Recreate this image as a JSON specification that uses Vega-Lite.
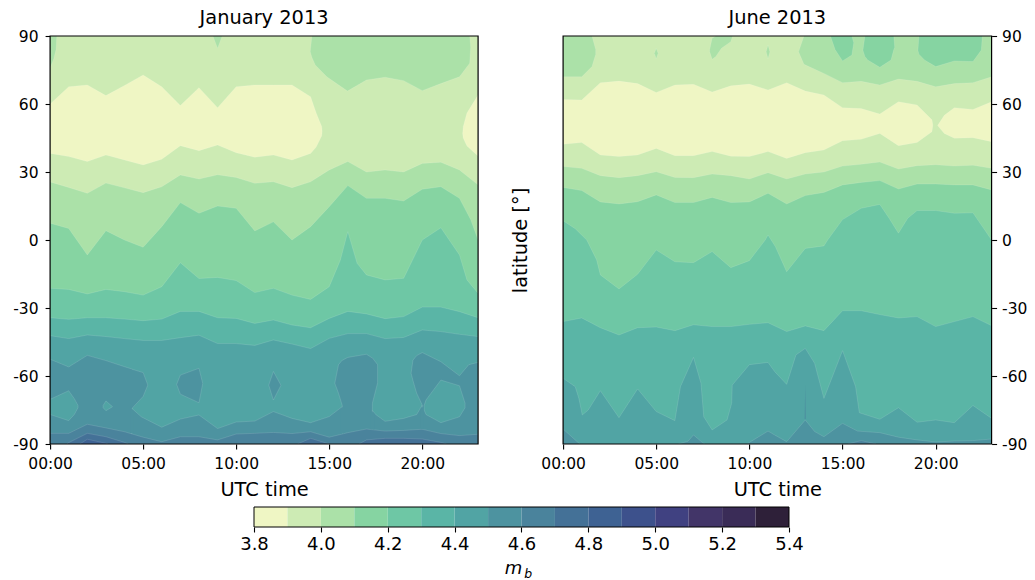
{
"$schema":"https://vega.github.io/schema/vega-lite/v6.json",
"background":"white",
"padding":{"left":12,"top":7,"right":8,"bottom":4},
"spacing":7,
"center":true,
"config":{"font":"DejaVu Sans","view":{"stroke":null},"title":{"font":"DejaVu Sans","fontWeight":"normal","color":"black","fontSize":19.4,"offset":1},
"axis":{"grid":false,"domain":false,"labelFlush":false,"labelOverlap":false,"tickColor":"black","tickWidth":1.1,"tickSize":5,"labelColor":"black","titleColor":"black","labelFont":"DejaVu Sans","titleFont":"DejaVu Sans","labelFontSize":15.5,"titleFontSize":19.4,"titleFontWeight":"normal","labelPadding":3}},
"datasets":{
"jan":[
{"id":"a0","band":"3.9","h":0,"top":90,"low":-90},{"id":"a0","band":"3.9","h":23,"top":90,"low":-90},
{"id":"a1","band":"4.0","h":0,"top":90,"low":76},{"id":"a1","band":"4.0","h":0.2,"top":90,"low":80},{"id":"a1","band":"4.0","h":0.32,"top":90,"low":84},{"id":"a1","band":"4.0","h":0.36,"top":90,"low":90},
{"id":"a2","band":"4.0","h":8.75,"top":90,"low":90},{"id":"a2","band":"4.0","h":9,"top":90,"low":84.6},{"id":"a2","band":"4.0","h":9.25,"top":90,"low":90},
{"id":"a3","band":"4.0","h":13.98,"top":83,"low":83},{"id":"a3","band":"4.0","h":14.07,"top":90,"low":80.5},{"id":"a3","band":"4.0","h":14.25,"top":90,"low":77.2},{"id":"a3","band":"4.0","h":14.87,"top":90,"low":72},{"id":"a3","band":"4.0","h":15.98,"top":90,"low":65.7},{"id":"a3","band":"4.0","h":17,"top":90,"low":70.6},{"id":"a3","band":"4.0","h":18,"top":90,"low":71.8},{"id":"a3","band":"4.0","h":19,"top":90,"low":70.3},{"id":"a3","band":"4.0","h":20,"top":90,"low":65.9},{"id":"a3","band":"4.0","h":21,"top":90,"low":69},{"id":"a3","band":"4.0","h":22,"top":90,"low":72},{"id":"a3","band":"4.0","h":22.55,"top":90,"low":78},{"id":"a3","band":"4.0","h":22.6,"top":85,"low":85},
{"id":"a4","band":"3.8","h":0,"top":60,"low":38.2},{"id":"a4","band":"3.8","h":1,"top":67.6,"low":36.8},{"id":"a4","band":"3.8","h":2,"top":68.4,"low":34.6},{"id":"a4","band":"3.8","h":3,"top":63.7,"low":37.5},{"id":"a4","band":"3.8","h":4,"top":68.2,"low":35.3},{"id":"a4","band":"3.8","h":5,"top":72.8,"low":33.1},{"id":"a4","band":"3.8","h":6,"top":67.6,"low":35.6},{"id":"a4","band":"3.8","h":7,"top":59.3,"low":41.6},{"id":"a4","band":"3.8","h":8,"top":67.2,"low":39.4},{"id":"a4","band":"3.8","h":9,"top":58.4,"low":41.9},{"id":"a4","band":"3.8","h":10,"top":67.6,"low":38.5},{"id":"a4","band":"3.8","h":11,"top":68.4,"low":36.5},{"id":"a4","band":"3.8","h":12,"top":68.4,"low":37.5},{"id":"a4","band":"3.8","h":13,"top":68.4,"low":35.3},{"id":"a4","band":"3.8","h":14,"top":63.2,"low":38.2},{"id":"a4","band":"3.8","h":14.3,"top":56,"low":41},{"id":"a4","band":"3.8","h":14.6,"top":50,"low":46},{"id":"a4","band":"3.8","h":14.62,"top":48,"low":48},
{"id":"a5","band":"3.8","h":22.17,"top":47,"low":47},{"id":"a5","band":"3.8","h":22.2,"top":50,"low":45},{"id":"a5","band":"3.8","h":22.4,"top":56,"low":41.5},{"id":"a5","band":"3.8","h":23,"top":64,"low":37},
{"id":"b1","band":"4.0","h":0,"top":25.6,"low":-90},{"id":"b1","band":"4.0","h":1,"top":23.2,"low":-90},{"id":"b1","band":"4.0","h":2,"top":20.6,"low":-90},{"id":"b1","band":"4.0","h":3,"top":25.1,"low":-90},{"id":"b1","band":"4.0","h":4,"top":23,"low":-90},{"id":"b1","band":"4.0","h":5,"top":20.9,"low":-90},{"id":"b1","band":"4.0","h":6,"top":23.5,"low":-90},{"id":"b1","band":"4.0","h":7,"top":28.7,"low":-90},{"id":"b1","band":"4.0","h":8,"top":26.9,"low":-90},{"id":"b1","band":"4.0","h":9,"top":28.8,"low":-90},{"id":"b1","band":"4.0","h":10,"top":27.6,"low":-90},{"id":"b1","band":"4.0","h":11,"top":25,"low":-90},{"id":"b1","band":"4.0","h":12,"top":25.7,"low":-90},{"id":"b1","band":"4.0","h":13,"top":23.1,"low":-90},{"id":"b1","band":"4.0","h":14,"top":25.7,"low":-90},{"id":"b1","band":"4.0","h":15,"top":30.9,"low":-90},{"id":"b1","band":"4.0","h":16,"top":34.6,"low":-90},{"id":"b1","band":"4.0","h":17,"top":30,"low":-90},{"id":"b1","band":"4.0","h":18,"top":30.9,"low":-90},{"id":"b1","band":"4.0","h":19,"top":30,"low":-90},{"id":"b1","band":"4.0","h":20,"top":33.8,"low":-90},{"id":"b1","band":"4.0","h":21,"top":34.3,"low":-90},{"id":"b1","band":"4.0","h":22,"top":30.9,"low":-90},{"id":"b1","band":"4.0","h":23,"top":24.3,"low":-90},
{"id":"b2","band":"4.1","h":0,"top":7.4,"low":-90},{"id":"b2","band":"4.1","h":1,"top":5.1,"low":-90},{"id":"b2","band":"4.1","h":2,"top":-6.6,"low":-90},{"id":"b2","band":"4.1","h":3,"top":4.1,"low":-90},{"id":"b2","band":"4.1","h":4,"top":0,"low":-90},{"id":"b2","band":"4.1","h":5,"top":-3.2,"low":-90},{"id":"b2","band":"4.1","h":6,"top":5.9,"low":-90},{"id":"b2","band":"4.1","h":7,"top":16.5,"low":-90},{"id":"b2","band":"4.1","h":8,"top":11.8,"low":-90},{"id":"b2","band":"4.1","h":9,"top":15,"low":-90},{"id":"b2","band":"4.1","h":10,"top":14,"low":-90},{"id":"b2","band":"4.1","h":11,"top":4,"low":-90},{"id":"b2","band":"4.1","h":12,"top":8,"low":-90},{"id":"b2","band":"4.1","h":13,"top":0,"low":-90},{"id":"b2","band":"4.1","h":14,"top":5.9,"low":-90},{"id":"b2","band":"4.1","h":15,"top":14.7,"low":-90},{"id":"b2","band":"4.1","h":16,"top":24,"low":-90},{"id":"b2","band":"4.1","h":17,"top":18.4,"low":-90},{"id":"b2","band":"4.1","h":18,"top":18.4,"low":-90},{"id":"b2","band":"4.1","h":19,"top":17.2,"low":-90},{"id":"b2","band":"4.1","h":20,"top":22.4,"low":-90},{"id":"b2","band":"4.1","h":21,"top":23.5,"low":-90},{"id":"b2","band":"4.1","h":22,"top":18.4,"low":-90},{"id":"b2","band":"4.1","h":22.6,"top":9,"low":-90},{"id":"b2","band":"4.1","h":23,"top":0,"low":-90},
{"id":"b3","band":"4.2","h":0,"top":-21.3,"low":-90},{"id":"b3","band":"4.2","h":1,"top":-21.8,"low":-90},{"id":"b3","band":"4.2","h":2,"top":-23.8,"low":-90},{"id":"b3","band":"4.2","h":3,"top":-21.8,"low":-90},{"id":"b3","band":"4.2","h":4,"top":-22.8,"low":-90},{"id":"b3","band":"4.2","h":5,"top":-24.3,"low":-90},{"id":"b3","band":"4.2","h":6,"top":-20.6,"low":-90},{"id":"b3","band":"4.2","h":7,"top":-10,"low":-90},{"id":"b3","band":"4.2","h":8,"top":-17,"low":-90},{"id":"b3","band":"4.2","h":9,"top":-16.5,"low":-90},{"id":"b3","band":"4.2","h":10,"top":-17.9,"low":-90},{"id":"b3","band":"4.2","h":11,"top":-23.2,"low":-90},{"id":"b3","band":"4.2","h":12,"top":-21.3,"low":-90},{"id":"b3","band":"4.2","h":13,"top":-24.3,"low":-90},{"id":"b3","band":"4.2","h":14,"top":-26.2,"low":-90},{"id":"b3","band":"4.2","h":15,"top":-20.6,"low":-90},{"id":"b3","band":"4.2","h":15.6,"top":-8.8,"low":-90},{"id":"b3","band":"4.2","h":16,"top":3.7,"low":-90},{"id":"b3","band":"4.2","h":16.5,"top":-10.3,"low":-90},{"id":"b3","band":"4.2","h":17,"top":-15.4,"low":-90},{"id":"b3","band":"4.2","h":18,"top":-17.6,"low":-90},{"id":"b3","band":"4.2","h":19,"top":-16.9,"low":-90},{"id":"b3","band":"4.2","h":20,"top":0,"low":-90},{"id":"b3","band":"4.2","h":21,"top":5.4,"low":-90},{"id":"b3","band":"4.2","h":22,"top":-6.6,"low":-90},{"id":"b3","band":"4.2","h":22.4,"top":-17.6,"low":-90},{"id":"b3","band":"4.2","h":23,"top":-23.5,"low":-90},
{"id":"b4","band":"4.3","h":0,"top":-34.3,"low":-90},{"id":"b4","band":"4.3","h":1,"top":-35,"low":-90},{"id":"b4","band":"4.3","h":2,"top":-34.3,"low":-90},{"id":"b4","band":"4.3","h":3,"top":-34.3,"low":-90},{"id":"b4","band":"4.3","h":4,"top":-34.9,"low":-90},{"id":"b4","band":"4.3","h":5,"top":-35.6,"low":-90},{"id":"b4","band":"4.3","h":6,"top":-34.9,"low":-90},{"id":"b4","band":"4.3","h":7,"top":-31.5,"low":-90},{"id":"b4","band":"4.3","h":8,"top":-31.5,"low":-90},{"id":"b4","band":"4.3","h":9,"top":-34.3,"low":-90},{"id":"b4","band":"4.3","h":10,"top":-34.6,"low":-90},{"id":"b4","band":"4.3","h":11,"top":-36.8,"low":-90},{"id":"b4","band":"4.3","h":12,"top":-35.3,"low":-90},{"id":"b4","band":"4.3","h":13,"top":-37.5,"low":-90},{"id":"b4","band":"4.3","h":14,"top":-38.7,"low":-90},{"id":"b4","band":"4.3","h":15,"top":-34.6,"low":-90},{"id":"b4","band":"4.3","h":16,"top":-31.5,"low":-90},{"id":"b4","band":"4.3","h":17,"top":-32.6,"low":-90},{"id":"b4","band":"4.3","h":18,"top":-34.7,"low":-90},{"id":"b4","band":"4.3","h":19,"top":-33.8,"low":-90},{"id":"b4","band":"4.3","h":20,"top":-29.6,"low":-90},{"id":"b4","band":"4.3","h":21,"top":-29.6,"low":-90},{"id":"b4","band":"4.3","h":22,"top":-31.6,"low":-90},{"id":"b4","band":"4.3","h":23,"top":-34.3,"low":-90},
{"id":"b5","band":"4.4","h":0,"top":-42.2,"low":-90},{"id":"b5","band":"4.4","h":1,"top":-43.5,"low":-90},{"id":"b5","band":"4.4","h":2,"top":-41.9,"low":-90},{"id":"b5","band":"4.4","h":3,"top":-42.6,"low":-90},{"id":"b5","band":"4.4","h":4,"top":-43.5,"low":-90},{"id":"b5","band":"4.4","h":5,"top":-44.3,"low":-90},{"id":"b5","band":"4.4","h":6,"top":-44.3,"low":-90},{"id":"b5","band":"4.4","h":7,"top":-43.1,"low":-90},{"id":"b5","band":"4.4","h":8,"top":-42,"low":-90},{"id":"b5","band":"4.4","h":9,"top":-45.7,"low":-90},{"id":"b5","band":"4.4","h":10,"top":-45.7,"low":-90},{"id":"b5","band":"4.4","h":11,"top":-46.5,"low":-90},{"id":"b5","band":"4.4","h":12,"top":-44.1,"low":-90},{"id":"b5","band":"4.4","h":13,"top":-45.9,"low":-90},{"id":"b5","band":"4.4","h":14,"top":-47.9,"low":-90},{"id":"b5","band":"4.4","h":15,"top":-43.4,"low":-90},{"id":"b5","band":"4.4","h":16,"top":-41.3,"low":-90},{"id":"b5","band":"4.4","h":17,"top":-41.3,"low":-90},{"id":"b5","band":"4.4","h":18,"top":-43.5,"low":-90},{"id":"b5","band":"4.4","h":19,"top":-43,"low":-90},{"id":"b5","band":"4.4","h":20,"top":-39.7,"low":-90},{"id":"b5","band":"4.4","h":21,"top":-40.4,"low":-90},{"id":"b5","band":"4.4","h":22,"top":-41.6,"low":-90},{"id":"b5","band":"4.4","h":23,"top":-42.6,"low":-90},
{"id":"c1","band":"4.5","h":0,"top":-52.6,"low":-90},{"id":"c1","band":"4.5","h":1,"top":-56,"low":-90},{"id":"c1","band":"4.5","h":2,"top":-50.9,"low":-90},{"id":"c1","band":"4.5","h":3,"top":-53.2,"low":-90},{"id":"c1","band":"4.5","h":4,"top":-55.9,"low":-90},{"id":"c1","band":"4.5","h":4.39,"top":-56.9,"low":-90},{"id":"c1","band":"4.5","h":4.4,"top":-57,"low":-74.3},{"id":"c1","band":"4.5","h":5,"top":-58.5,"low":-69},{"id":"c1","band":"4.5","h":5.25,"top":-64,"low":-64},
{"id":"c2","band":"4.5","h":4.4,"top":-74.3,"low":-90},{"id":"c2","band":"4.5","h":4.9,"top":-78,"low":-90},{"id":"c2","band":"4.5","h":6,"top":-82.6,"low":-90},{"id":"c2","band":"4.5","h":7,"top":-79,"low":-90},{"id":"c2","band":"4.5","h":8,"top":-77.2,"low":-90},{"id":"c2","band":"4.5","h":9,"top":-83.2,"low":-90},{"id":"c2","band":"4.5","h":10,"top":-80.3,"low":-90},{"id":"c2","band":"4.5","h":11,"top":-79.9,"low":-90},{"id":"c2","band":"4.5","h":12,"top":-75.7,"low":-90},{"id":"c2","band":"4.5","h":13,"top":-78.7,"low":-90},{"id":"c2","band":"4.5","h":14,"top":-80.6,"low":-90},{"id":"c2","band":"4.5","h":15,"top":-77.9,"low":-90},{"id":"c2","band":"4.5","h":15.7,"top":-73.5,"low":-90},{"id":"c2","band":"4.5","h":17.3,"top":-75,"low":-90},{"id":"c2","band":"4.5","h":17.5,"top":-77,"low":-90},{"id":"c2","band":"4.5","h":18,"top":-80,"low":-90},{"id":"c2","band":"4.5","h":19,"top":-78.7,"low":-90},{"id":"c2","band":"4.5","h":19.7,"top":-77,"low":-90},{"id":"c2","band":"4.5","h":20,"top":-72.8,"low":-90},
{"id":"c3","band":"4.5","h":15.3,"top":-63.2,"low":-63.2},{"id":"c3","band":"4.5","h":15.5,"top":-55,"low":-67.6},{"id":"c3","band":"4.5","h":15.7,"top":-53,"low":-73},{"id":"c3","band":"4.5","h":15.72,"top":-53,"low":-90},{"id":"c3","band":"4.5","h":16,"top":-51.8,"low":-90},{"id":"c3","band":"4.5","h":17,"top":-50.4,"low":-90},{"id":"c3","band":"4.5","h":17.3,"top":-52,"low":-90},{"id":"c3","band":"4.5","h":17.32,"top":-52,"low":-72},{"id":"c3","band":"4.5","h":17.6,"top":-55,"low":-63},
{"id":"c4","band":"4.5","h":19.4,"top":-58.8,"low":-58.8},{"id":"c4","band":"4.5","h":19.5,"top":-53,"low":-62},{"id":"c4","band":"4.5","h":19.7,"top":-51,"low":-67.6},{"id":"c4","band":"4.5","h":20,"top":-49.7,"low":-72.8},{"id":"c4","band":"4.5","h":20.01,"top":-49.7,"low":-90},{"id":"c4","band":"4.5","h":21,"top":-53.7,"low":-90},{"id":"c4","band":"4.5","h":22,"top":-59.9,"low":-90},{"id":"c4","band":"4.5","h":22.5,"top":-55,"low":-90},{"id":"c4","band":"4.5","h":23,"top":-54,"low":-90},
{"id":"d1","band":"4.4","h":0,"top":-70.3,"low":-77},{"id":"d1","band":"4.4","h":1,"top":-66.5,"low":-79.7},{"id":"d1","band":"4.4","h":1.3,"top":-70,"low":-77},{"id":"d1","band":"4.4","h":1.5,"top":-73,"low":-74},
{"id":"d2","band":"4.4","h":2.85,"top":-73,"low":-74},{"id":"d2","band":"4.4","h":3,"top":-71,"low":-75.3},{"id":"d2","band":"4.4","h":3.35,"top":-73.5,"low":-73.6},
{"id":"d3","band":"4.4","h":20.1,"top":-73,"low":-75},{"id":"d3","band":"4.4","h":20.2,"top":-70.6,"low":-77},{"id":"d3","band":"4.4","h":21,"top":-61.8,"low":-80.6},{"id":"d3","band":"4.4","h":22,"top":-64.3,"low":-78},{"id":"d3","band":"4.4","h":22.3,"top":-72,"low":-74},
{"id":"d4","band":"4.5","h":6.8,"top":-63.7,"low":-63.7},{"id":"d4","band":"4.5","h":7,"top":-59.6,"low":-68},{"id":"d4","band":"4.5","h":8,"top":-56.6,"low":-71.8},{"id":"d4","band":"4.5","h":8.2,"top":-63.2,"low":-63.4},
{"id":"d5","band":"4.5","h":11.75,"top":-64,"low":-64},{"id":"d5","band":"4.5","h":12,"top":-58,"low":-70.6},{"id":"d5","band":"4.5","h":12.4,"top":-64,"low":-64.2},
{"id":"f1","band":"4.5","h":4.33,"top":-73.5,"low":-85},{"id":"f1","band":"4.5","h":4.4,"top":-74.6,"low":-85.3},{"id":"f1","band":"4.5","h":4.47,"top":-75.2,"low":-85.3},
{"id":"f2","band":"4.5","h":15.62,"top":-74.6,"low":-85.4},{"id":"f2","band":"4.5","h":15.72,"top":-73.8,"low":-85.4},{"id":"f2","band":"4.5","h":15.82,"top":-73.8,"low":-85.2},
{"id":"f3","band":"4.5","h":17.22,"top":-75.2,"low":-83.6},{"id":"f3","band":"4.5","h":17.42,"top":-76.5,"low":-83.6},
{"id":"f4","band":"4.5","h":19.92,"top":-74.3,"low":-83.5},{"id":"f4","band":"4.5","h":20.07,"top":-73.5,"low":-83.5},
{"id":"e1","band":"4.6","h":0,"top":-85.3,"low":-90},{"id":"e1","band":"4.6","h":1,"top":-85.3,"low":-90},{"id":"e1","band":"4.6","h":2,"top":-81.3,"low":-90},{"id":"e1","band":"4.6","h":3,"top":-82.9,"low":-90},{"id":"e1","band":"4.6","h":4,"top":-84.6,"low":-90},{"id":"e1","band":"4.6","h":5,"top":-87,"low":-90},{"id":"e1","band":"4.6","h":6,"top":-89,"low":-90},{"id":"e1","band":"4.6","h":7,"top":-86.8,"low":-90},{"id":"e1","band":"4.6","h":8,"top":-86.8,"low":-90},{"id":"e1","band":"4.6","h":9,"top":-88.2,"low":-90},{"id":"e1","band":"4.6","h":10,"top":-85.6,"low":-90},{"id":"e1","band":"4.6","h":11,"top":-85.3,"low":-90},{"id":"e1","band":"4.6","h":12,"top":-84.9,"low":-90},{"id":"e1","band":"4.6","h":13,"top":-85.4,"low":-90},{"id":"e1","band":"4.6","h":14,"top":-84.6,"low":-90},{"id":"e1","band":"4.6","h":15,"top":-87,"low":-90},{"id":"e1","band":"4.6","h":16,"top":-85,"low":-90},{"id":"e1","band":"4.6","h":17,"top":-83.4,"low":-90},{"id":"e1","band":"4.6","h":18,"top":-84.3,"low":-90},{"id":"e1","band":"4.6","h":19,"top":-84,"low":-90},{"id":"e1","band":"4.6","h":20,"top":-83.5,"low":-90},{"id":"e1","band":"4.6","h":21,"top":-85.4,"low":-90},{"id":"e1","band":"4.6","h":22,"top":-86.3,"low":-90},{"id":"e1","band":"4.6","h":23,"top":-85.7,"low":-90},
{"id":"e2","band":"4.7","h":0.9,"top":-90,"low":-90},{"id":"e2","band":"4.7","h":1,"top":-89.4,"low":-90},{"id":"e2","band":"4.7","h":2,"top":-85.3,"low":-90},{"id":"e2","band":"4.7","h":3,"top":-86.8,"low":-90},{"id":"e2","band":"4.7","h":4,"top":-89.3,"low":-90},{"id":"e2","band":"4.7","h":4.2,"top":-90,"low":-90},
{"id":"e3","band":"4.7","h":13.3,"top":-90,"low":-90},{"id":"e3","band":"4.7","h":14,"top":-87.5,"low":-90},{"id":"e3","band":"4.7","h":15,"top":-90,"low":-90},
{"id":"e4","band":"4.7","h":16.6,"top":-90,"low":-90},{"id":"e4","band":"4.7","h":17,"top":-88.2,"low":-90},{"id":"e4","band":"4.7","h":18,"top":-87.5,"low":-90},{"id":"e4","band":"4.7","h":19,"top":-87.5,"low":-90},{"id":"e4","band":"4.7","h":20,"top":-87.8,"low":-90},{"id":"e4","band":"4.7","h":21,"top":-89.3,"low":-90},{"id":"e4","band":"4.7","h":21.3,"top":-90,"low":-90},
{"id":"e5","band":"4.8","h":1.6,"top":-90,"low":-90},{"id":"e5","band":"4.8","h":2,"top":-87.9,"low":-90},{"id":"e5","band":"4.8","h":3,"top":-89.7,"low":-90},{"id":"e5","band":"4.8","h":3.1,"top":-90,"low":-90}
],
"jun":[
{"id":"a0","band":"3.9","h":0,"top":90,"low":-90},{"id":"a0","band":"3.9","h":23,"top":90,"low":-90},
{"id":"a1","band":"4.0","h":0,"top":90,"low":72},{"id":"a1","band":"4.0","h":1,"top":90,"low":72},{"id":"a1","band":"4.0","h":1.55,"top":90,"low":76.5},{"id":"a1","band":"4.0","h":1.75,"top":84,"low":82},
{"id":"a2","band":"4.0","h":4.9,"top":82.4,"low":82.4},{"id":"a2","band":"4.0","h":5,"top":84.5,"low":80},{"id":"a2","band":"4.0","h":5.1,"top":82.4,"low":82.4},
{"id":"a3","band":"4.0","h":7.87,"top":84,"low":83},{"id":"a3","band":"4.0","h":8,"top":89,"low":79.7},{"id":"a3","band":"4.0","h":8.2,"top":90,"low":81},{"id":"a3","band":"4.0","h":8.5,"top":90,"low":84.6},{"id":"a3","band":"4.0","h":9,"top":90,"low":87.5},{"id":"a3","band":"4.0","h":9.1,"top":90,"low":90},
{"id":"a4","band":"4.0","h":10.9,"top":83,"low":83},{"id":"a4","band":"4.0","h":11,"top":86,"low":80},{"id":"a4","band":"4.0","h":11.1,"top":83,"low":83},
{"id":"a5","band":"4.0","h":12.64,"top":83,"low":83},{"id":"a5","band":"4.0","h":12.93,"top":90,"low":77.5},{"id":"a5","band":"4.0","h":14,"top":90,"low":73.5},{"id":"a5","band":"4.0","h":15,"top":90,"low":69.4},{"id":"a5","band":"4.0","h":16,"top":90,"low":70},{"id":"a5","band":"4.0","h":17,"top":90,"low":68.4},{"id":"a5","band":"4.0","h":18,"top":90,"low":71},{"id":"a5","band":"4.0","h":19,"top":90,"low":70},{"id":"a5","band":"4.0","h":20,"top":90,"low":67.6},{"id":"a5","band":"4.0","h":21,"top":90,"low":69},{"id":"a5","band":"4.0","h":22,"top":90,"low":69.4},{"id":"a5","band":"4.0","h":23,"top":90,"low":72},
{"id":"a6","band":"4.1","h":14.35,"top":90,"low":90},{"id":"a6","band":"4.1","h":14.6,"top":90,"low":84},{"id":"a6","band":"4.1","h":15,"top":90,"low":79},{"id":"a6","band":"4.1","h":15.5,"top":90,"low":81.6},{"id":"a6","band":"4.1","h":15.6,"top":87,"low":87},
{"id":"a7","band":"4.1","h":16.1,"top":84,"low":83.5},{"id":"a7","band":"4.1","h":16.2,"top":90,"low":81},{"id":"a7","band":"4.1","h":16.35,"top":90,"low":79.4},{"id":"a7","band":"4.1","h":17,"top":90,"low":76.2},{"id":"a7","band":"4.1","h":17.6,"top":90,"low":79.4},{"id":"a7","band":"4.1","h":17.75,"top":90,"low":84},{"id":"a7","band":"4.1","h":17.8,"top":85,"low":85},
{"id":"a8","band":"4.1","h":19.05,"top":84,"low":83.5},{"id":"a8","band":"4.1","h":19.1,"top":90,"low":82},{"id":"a8","band":"4.1","h":19.4,"top":90,"low":79.4},{"id":"a8","band":"4.1","h":20,"top":90,"low":76.5},{"id":"a8","band":"4.1","h":21,"top":90,"low":79},{"id":"a8","band":"4.1","h":22,"top":90,"low":78.7},{"id":"a8","band":"4.1","h":22.45,"top":90,"low":83.8},{"id":"a8","band":"4.1","h":22.5,"top":90,"low":90},
{"id":"a9","band":"3.8","h":0,"top":62,"low":42.2},{"id":"a9","band":"3.8","h":1,"top":61.8,"low":43},{"id":"a9","band":"3.8","h":2,"top":69.4,"low":37.5},{"id":"a9","band":"3.8","h":3,"top":70.1,"low":36.8},{"id":"a9","band":"3.8","h":4,"top":69,"low":37.5},{"id":"a9","band":"3.8","h":5,"top":65.1,"low":40.4},{"id":"a9","band":"3.8","h":6,"top":68.4,"low":37.2},{"id":"a9","band":"3.8","h":7,"top":68.7,"low":37.2},{"id":"a9","band":"3.8","h":8,"top":65.3,"low":39},{"id":"a9","band":"3.8","h":9,"top":68,"low":37},{"id":"a9","band":"3.8","h":10,"top":68.8,"low":36.8},{"id":"a9","band":"3.8","h":11,"top":66.2,"low":39},{"id":"a9","band":"3.8","h":12,"top":69.4,"low":36},{"id":"a9","band":"3.8","h":13,"top":65.7,"low":38.5},{"id":"a9","band":"3.8","h":14,"top":64,"low":39.7},{"id":"a9","band":"3.8","h":15,"top":58.4,"low":43.8},{"id":"a9","band":"3.8","h":16,"top":58,"low":44.4},{"id":"a9","band":"3.8","h":17,"top":55.6,"low":47},{"id":"a9","band":"3.8","h":18,"top":61,"low":41.6},{"id":"a9","band":"3.8","h":19,"top":59.6,"low":43},{"id":"a9","band":"3.8","h":19.8,"top":53,"low":47.8},{"id":"a9","band":"3.8","h":19.85,"top":50.7,"low":50.7},
{"id":"a10","band":"3.8","h":20.1,"top":50.5,"low":50.5},{"id":"a10","band":"3.8","h":20.46,"top":55,"low":47},{"id":"a10","band":"3.8","h":21,"top":58.4,"low":44.9},{"id":"a10","band":"3.8","h":22,"top":57.6,"low":45.1},{"id":"a10","band":"3.8","h":23,"top":61,"low":43.4},
{"id":"b1","band":"4.0","h":0,"top":32.4,"low":-90},{"id":"b1","band":"4.0","h":1,"top":31.6,"low":-90},{"id":"b1","band":"4.0","h":2,"top":28.4,"low":-90},{"id":"b1","band":"4.0","h":3,"top":27.5,"low":-90},{"id":"b1","band":"4.0","h":4,"top":28.4,"low":-90},{"id":"b1","band":"4.0","h":5,"top":30.1,"low":-90},{"id":"b1","band":"4.0","h":6,"top":27.6,"low":-90},{"id":"b1","band":"4.0","h":7,"top":27.5,"low":-90},{"id":"b1","band":"4.0","h":8,"top":29.1,"low":-90},{"id":"b1","band":"4.0","h":9,"top":28.4,"low":-90},{"id":"b1","band":"4.0","h":10,"top":26.9,"low":-90},{"id":"b1","band":"4.0","h":11,"top":29.7,"low":-90},{"id":"b1","band":"4.0","h":12,"top":26.9,"low":-90},{"id":"b1","band":"4.0","h":13,"top":29.1,"low":-90},{"id":"b1","band":"4.0","h":14,"top":30,"low":-90},{"id":"b1","band":"4.0","h":15,"top":32.6,"low":-90},{"id":"b1","band":"4.0","h":16,"top":33.4,"low":-90},{"id":"b1","band":"4.0","h":17,"top":34.4,"low":-90},{"id":"b1","band":"4.0","h":18,"top":31.3,"low":-90},{"id":"b1","band":"4.0","h":19,"top":32.8,"low":-90},{"id":"b1","band":"4.0","h":20,"top":33.2,"low":-90},{"id":"b1","band":"4.0","h":21,"top":32.6,"low":-90},{"id":"b1","band":"4.0","h":22,"top":33,"low":-90},{"id":"b1","band":"4.0","h":23,"top":31.6,"low":-90},
{"id":"b2","band":"4.1","h":0,"top":23.2,"low":-90},{"id":"b2","band":"4.1","h":1,"top":21.8,"low":-90},{"id":"b2","band":"4.1","h":2,"top":16.8,"low":-90},{"id":"b2","band":"4.1","h":3,"top":15.9,"low":-90},{"id":"b2","band":"4.1","h":4,"top":16.9,"low":-90},{"id":"b2","band":"4.1","h":5,"top":19.9,"low":-90},{"id":"b2","band":"4.1","h":6,"top":16.5,"low":-90},{"id":"b2","band":"4.1","h":7,"top":16.5,"low":-90},{"id":"b2","band":"4.1","h":8,"top":18.8,"low":-90},{"id":"b2","band":"4.1","h":9,"top":16.5,"low":-90},{"id":"b2","band":"4.1","h":10,"top":16.8,"low":-90},{"id":"b2","band":"4.1","h":11,"top":20.6,"low":-90},{"id":"b2","band":"4.1","h":12,"top":15.9,"low":-90},{"id":"b2","band":"4.1","h":13,"top":19.6,"low":-90},{"id":"b2","band":"4.1","h":14,"top":21,"low":-90},{"id":"b2","band":"4.1","h":15,"top":24.3,"low":-90},{"id":"b2","band":"4.1","h":16,"top":25.4,"low":-90},{"id":"b2","band":"4.1","h":17,"top":26.2,"low":-90},{"id":"b2","band":"4.1","h":18,"top":22.5,"low":-90},{"id":"b2","band":"4.1","h":19,"top":24.7,"low":-90},{"id":"b2","band":"4.1","h":20,"top":24.7,"low":-90},{"id":"b2","band":"4.1","h":21,"top":24.3,"low":-90},{"id":"b2","band":"4.1","h":22,"top":24.3,"low":-90},{"id":"b2","band":"4.1","h":23,"top":22.1,"low":-90},
{"id":"b3","band":"4.2","h":0,"top":8.5,"low":-90},{"id":"b3","band":"4.2","h":0.65,"top":5,"low":-90},{"id":"b3","band":"4.2","h":1.27,"top":0,"low":-90},{"id":"b3","band":"4.2","h":1.8,"top":-8.8,"low":-90},{"id":"b3","band":"4.2","h":2,"top":-15.4,"low":-90},{"id":"b3","band":"4.2","h":3,"top":-21.6,"low":-90},{"id":"b3","band":"4.2","h":4,"top":-15.1,"low":-90},{"id":"b3","band":"4.2","h":5,"top":-4.4,"low":-90},{"id":"b3","band":"4.2","h":6,"top":-9.6,"low":-90},{"id":"b3","band":"4.2","h":7,"top":-10,"low":-90},{"id":"b3","band":"4.2","h":8,"top":-5.1,"low":-90},{"id":"b3","band":"4.2","h":9,"top":-12.2,"low":-90},{"id":"b3","band":"4.2","h":10,"top":-9.1,"low":-90},{"id":"b3","band":"4.2","h":10.85,"top":0,"low":-90},{"id":"b3","band":"4.2","h":11,"top":2.2,"low":-90},{"id":"b3","band":"4.2","h":11.4,"top":-3,"low":-90},{"id":"b3","band":"4.2","h":12,"top":-14,"low":-90},{"id":"b3","band":"4.2","h":13,"top":-3.7,"low":-90},{"id":"b3","band":"4.2","h":14,"top":-2.6,"low":-90},{"id":"b3","band":"4.2","h":14.2,"top":0,"low":-90},{"id":"b3","band":"4.2","h":15,"top":9,"low":-90},{"id":"b3","band":"4.2","h":16,"top":14,"low":-90},{"id":"b3","band":"4.2","h":17,"top":15.7,"low":-90},{"id":"b3","band":"4.2","h":17.5,"top":9.6,"low":-90},{"id":"b3","band":"4.2","h":18,"top":3,"low":-90},{"id":"b3","band":"4.2","h":18.5,"top":9.6,"low":-90},{"id":"b3","band":"4.2","h":19,"top":13,"low":-90},{"id":"b3","band":"4.2","h":20,"top":13,"low":-90},{"id":"b3","band":"4.2","h":21,"top":11.8,"low":-90},{"id":"b3","band":"4.2","h":22,"top":12,"low":-90},{"id":"b3","band":"4.2","h":23,"top":0,"low":-90},
{"id":"b4","band":"4.3","h":0,"top":-36,"low":-90},{"id":"b4","band":"4.3","h":1,"top":-34.4,"low":-90},{"id":"b4","band":"4.3","h":2,"top":-38.7,"low":-90},{"id":"b4","band":"4.3","h":3,"top":-41.9,"low":-90},{"id":"b4","band":"4.3","h":4,"top":-38.7,"low":-90},{"id":"b4","band":"4.3","h":5,"top":-38.4,"low":-90},{"id":"b4","band":"4.3","h":6,"top":-40,"low":-90},{"id":"b4","band":"4.3","h":7,"top":-37.4,"low":-90},{"id":"b4","band":"4.3","h":8,"top":-38.2,"low":-90},{"id":"b4","band":"4.3","h":9,"top":-38.2,"low":-90},{"id":"b4","band":"4.3","h":10,"top":-37.2,"low":-90},{"id":"b4","band":"4.3","h":11,"top":-36.5,"low":-90},{"id":"b4","band":"4.3","h":12,"top":-40.4,"low":-90},{"id":"b4","band":"4.3","h":13,"top":-37.9,"low":-90},{"id":"b4","band":"4.3","h":14,"top":-40,"low":-90},{"id":"b4","band":"4.3","h":15,"top":-31.2,"low":-90},{"id":"b4","band":"4.3","h":16,"top":-31.2,"low":-90},{"id":"b4","band":"4.3","h":17,"top":-32.9,"low":-90},{"id":"b4","band":"4.3","h":18,"top":-34.4,"low":-90},{"id":"b4","band":"4.3","h":19,"top":-33.8,"low":-90},{"id":"b4","band":"4.3","h":20,"top":-38.2,"low":-90},{"id":"b4","band":"4.3","h":21,"top":-36,"low":-90},{"id":"b4","band":"4.3","h":22,"top":-33.8,"low":-90},{"id":"b4","band":"4.3","h":23,"top":-37.8,"low":-90},
{"id":"b5","band":"4.4","h":0,"top":-61,"low":-90},{"id":"b5","band":"4.4","h":0.65,"top":-64.7,"low":-90},{"id":"b5","band":"4.4","h":0.85,"top":-70,"low":-90},{"id":"b5","band":"4.4","h":1.03,"top":-77.2,"low":-90},{"id":"b5","band":"4.4","h":1.35,"top":-75,"low":-90},{"id":"b5","band":"4.4","h":2,"top":-66.5,"low":-90},{"id":"b5","band":"4.4","h":3,"top":-78.4,"low":-90},{"id":"b5","band":"4.4","h":4,"top":-65.7,"low":-90},{"id":"b5","band":"4.4","h":5,"top":-75.7,"low":-90},{"id":"b5","band":"4.4","h":6,"top":-79.7,"low":-90},{"id":"b5","band":"4.4","h":6.3,"top":-64.7,"low":-90},{"id":"b5","band":"4.4","h":7,"top":-51.8,"low":-90},{"id":"b5","band":"4.4","h":7.4,"top":-63.2,"low":-90},{"id":"b5","band":"4.4","h":7.55,"top":-78,"low":-90},{"id":"b5","band":"4.4","h":8,"top":-83.8,"low":-90},{"id":"b5","band":"4.4","h":8.8,"top":-79.4,"low":-90},{"id":"b5","band":"4.4","h":9.05,"top":-72,"low":-90},{"id":"b5","band":"4.4","h":9.08,"top":-64,"low":-90},{"id":"b5","band":"4.4","h":10,"top":-55,"low":-90},{"id":"b5","band":"4.4","h":11,"top":-54,"low":-90},{"id":"b5","band":"4.4","h":11.35,"top":-58,"low":-90},{"id":"b5","band":"4.4","h":12,"top":-63.7,"low":-90},{"id":"b5","band":"4.4","h":12.5,"top":-50.7,"low":-90},{"id":"b5","band":"4.4","h":13,"top":-47.8,"low":-90},{"id":"b5","band":"4.4","h":13.5,"top":-54.4,"low":-90},{"id":"b5","band":"4.4","h":14,"top":-69.9,"low":-90},{"id":"b5","band":"4.4","h":15,"top":-48.8,"low":-90},{"id":"b5","band":"4.4","h":15.7,"top":-64.7,"low":-90},{"id":"b5","band":"4.4","h":15.9,"top":-76.2,"low":-90},{"id":"b5","band":"4.4","h":17,"top":-79.1,"low":-90},{"id":"b5","band":"4.4","h":18,"top":-74,"low":-90},{"id":"b5","band":"4.4","h":19,"top":-80.4,"low":-90},{"id":"b5","band":"4.4","h":20,"top":-79.4,"low":-90},{"id":"b5","band":"4.4","h":21,"top":-80.6,"low":-90},{"id":"b5","band":"4.4","h":22,"top":-73,"low":-90},{"id":"b5","band":"4.4","h":23,"top":-78.7,"low":-90},
{"id":"c2","band":"4.5","h":0,"top":-83.4,"low":-90},{"id":"c2","band":"4.5","h":0.8,"top":-89.3,"low":-90},{"id":"c2","band":"4.5","h":0.9,"top":-90,"low":-90},
{"id":"c3","band":"4.5","h":6.2,"top":-90,"low":-90},{"id":"c3","band":"4.5","h":6.7,"top":-88.8,"low":-90},{"id":"c3","band":"4.5","h":7,"top":-86,"low":-90},{"id":"c3","band":"4.5","h":7.5,"top":-89.5,"low":-90},{"id":"c3","band":"4.5","h":7.6,"top":-90,"low":-90},
{"id":"c4","band":"4.5","h":9.9,"top":-90,"low":-90},{"id":"c4","band":"4.5","h":10,"top":-89.3,"low":-90},{"id":"c4","band":"4.5","h":11,"top":-84.3,"low":-90},{"id":"c4","band":"4.5","h":11.35,"top":-86,"low":-90},{"id":"c4","band":"4.5","h":12,"top":-89,"low":-90},{"id":"c4","band":"4.5","h":13,"top":-79.4,"low":-90},{"id":"c4","band":"4.5","h":13.5,"top":-84.5,"low":-90},{"id":"c4","band":"4.5","h":14,"top":-86.8,"low":-90},{"id":"c4","band":"4.5","h":15,"top":-80.9,"low":-90},{"id":"c4","band":"4.5","h":15.8,"top":-84.3,"low":-90},{"id":"c4","band":"4.5","h":17,"top":-85,"low":-90},{"id":"c4","band":"4.5","h":18,"top":-87,"low":-90},{"id":"c4","band":"4.5","h":19,"top":-88.2,"low":-90},{"id":"c4","band":"4.5","h":20,"top":-89.1,"low":-90},{"id":"c4","band":"4.5","h":21,"top":-88.7,"low":-90},{"id":"c4","band":"4.5","h":22,"top":-88.5,"low":-90},{"id":"c4","band":"4.5","h":23,"top":-87.8,"low":-90},
{"id":"c5","band":"4.6","h":15.3,"top":-90,"low":-90},{"id":"c5","band":"4.6","h":16,"top":-88.5,"low":-90},{"id":"c5","band":"4.6","h":16.8,"top":-90,"low":-90},
{"id":"f1","band":"4.5","h":12.96,"top":-79,"low":-79},{"id":"f1","band":"4.5","h":13,"top":-64,"low":-79},{"id":"f1","band":"4.5","h":13.04,"top":-79,"low":-79}
],
"bar":[
{"band":"3.8","from":3.8,"to":3.9},{"band":"3.9","from":3.9,"to":4.0},{"band":"4.0","from":4.0,"to":4.1},{"band":"4.1","from":4.1,"to":4.2},{"band":"4.2","from":4.2,"to":4.3},{"band":"4.3","from":4.3,"to":4.4},{"band":"4.4","from":4.4,"to":4.5},{"band":"4.5","from":4.5,"to":4.6},{"band":"4.6","from":4.6,"to":4.7},{"band":"4.7","from":4.7,"to":4.8},{"band":"4.8","from":4.8,"to":4.9},{"band":"4.9","from":4.9,"to":5.0},{"band":"5.0","from":5.0,"to":5.1},{"band":"5.1","from":5.1,"to":5.2},{"band":"5.2","from":5.2,"to":5.3},{"band":"5.3","from":5.3,"to":5.4}
]
},
"vconcat":[
{"hconcat":[
{"width":428,"height":408,"title":"January 2013",
"layer":[
{"data":{"name":"jan"},"transform":[{"filter":"datum.id[0]!='f'"}],"mark":{"type":"area","clip":true,"stroke":"white","strokeOpacity":0.2,"strokeWidth":0.6},
"encoding":{
"x":{"field":"h","type":"quantitative","scale":{"domain":[0,23],"nice":false,"zero":false},"axis":{"title":"UTC time","values":[0,5,10,15,20],"labelExpr":"(datum.value<10?'0':'')+datum.value+':00'","labelPadding":7,"titlePadding":9}},
"y":{"field":"top","type":"quantitative","stack":null,"scale":{"domain":[-90,90],"nice":false,"zero":false},"axis":{"title":null,"values":[-90,-60,-30,0,30,60,90],"labelExpr":"''+datum.value","labelPadding":7}},
"y2":{"field":"low"},
"detail":{"field":"id"},
"color":{"field":"band","type":"nominal","legend":null,"scale":{"domain":["3.8","3.9","4.0","4.1","4.2","4.3","4.4","4.5","4.6","4.7","4.8","4.9","5.0","5.1","5.2","5.3"],"range":["#eff6c4","#cdebb4","#abe1a8","#86d4a2","#6ec7a5","#5ab5a6","#51a4a4","#4d93a0","#4a839c","#447197","#3e6293","#3d518c","#404181","#423568","#3a2c57","#2e2039"]}}
}},
{"data":{"name":"jan"},"transform":[{"filter":"datum.id[0]=='f'"}],"mark":{"type":"area","clip":true},
"encoding":{"x":{"field":"h","type":"quantitative"},"y":{"field":"top","type":"quantitative","stack":null},"y2":{"field":"low"},"detail":{"field":"id"},"color":{"field":"band","type":"nominal","legend":null}}},
{"data":{"values":[{"frame":1}]},"mark":{"type":"rect","fill":"transparent","stroke":"black","strokeWidth":1.2},
"encoding":{"x":{"datum":0},"x2":{"datum":23},"y":{"datum":-90},"y2":{"datum":90}}}
]},
{"width":428.5,"height":408,"title":"June 2013",
"resolve":{"axis":{"y":"independent"}},
"layer":[
{"data":{"name":"jun"},"transform":[{"filter":"datum.id[0]!='f'"}],"mark":{"type":"area","clip":true,"stroke":"white","strokeOpacity":0.2,"strokeWidth":0.6},
"encoding":{
"x":{"field":"h","type":"quantitative","scale":{"domain":[0,23],"nice":false,"zero":false},"axis":{"title":"UTC time","values":[0,5,10,15,20],"labelExpr":"(datum.value<10?'0':'')+datum.value+':00'","labelPadding":7,"titlePadding":9}},
"y":{"field":"top","type":"quantitative","stack":null,"scale":{"domain":[-90,90],"nice":false,"zero":false},"axis":{"orient":"right","title":null,"values":[-90,-60,-30,0,30,60,90],"labelExpr":"''+datum.value","labelPadding":5}},
"y2":{"field":"low"},
"detail":{"field":"id"},
"color":{"field":"band","type":"nominal","legend":null,"scale":{"domain":["3.8","3.9","4.0","4.1","4.2","4.3","4.4","4.5","4.6","4.7","4.8","4.9","5.0","5.1","5.2","5.3"],"range":["#eff6c4","#cdebb4","#abe1a8","#86d4a2","#6ec7a5","#5ab5a6","#51a4a4","#4d93a0","#4a839c","#447197","#3e6293","#3d518c","#404181","#423568","#3a2c57","#2e2039"]}}
}},
{"data":{"name":"jun"},"transform":[{"filter":"datum.id[0]=='f'"}],"mark":{"type":"area","clip":true},
"encoding":{"x":{"field":"h","type":"quantitative"},"y":{"field":"top","type":"quantitative","stack":null,"axis":null},"y2":{"field":"low"},"detail":{"field":"id"},"color":{"field":"band","type":"nominal","legend":null}}},
{"data":{"values":[{"frame":1}]},"mark":{"type":"rect","fill":"transparent","stroke":"black","strokeWidth":1.2},
"encoding":{"x":{"datum":0},"x2":{"datum":23},"y":{"datum":-90,"axis":{"orient":"left","title":"latitude [°]","labels":false,"ticks":false,"titlePadding":33}},"y2":{"datum":90}}}
]}
],"spacing":85,"bounds":"flush"},
{"width":569,"height":20,
"layer":[
{"data":{"name":"bar"},"mark":"rect",
"encoding":{
"x":{"field":"from","type":"quantitative","scale":{"domain":[3.8,5.4],"range":[0,535],"nice":false,"zero":false},"axis":{"title":"m","titleFontStyle":"italic","titleFontSize":18,"titleX":259,"titlePadding":6,"values":[3.8,4.0,4.2,4.4,4.6,4.8,5.0,5.2,5.4],"format":".1f","labelFontSize":18}},
"x2":{"field":"to"},
"color":{"field":"band","type":"nominal","legend":null,"scale":{"domain":["3.8","3.9","4.0","4.1","4.2","4.3","4.4","4.5","4.6","4.7","4.8","4.9","5.0","5.1","5.2","5.3"],"range":["#eff6c4","#cdebb4","#abe1a8","#86d4a2","#6ec7a5","#5ab5a6","#51a4a4","#4d93a0","#4a839c","#447197","#3e6293","#3d518c","#404181","#423568","#3a2c57","#2e2039"]}}
}},
{"data":{"values":[{"frame":1}]},"mark":{"type":"rect","fill":"transparent","stroke":"black","strokeWidth":1},
"encoding":{"x":{"datum":3.8},"x2":{"datum":5.4}}},
{"data":{"values":[{"sub":"b","at":4.62}]},"mark":{"type":"text","fontStyle":"italic","fontSize":12.5,"dy":57,"color":"black"},
"encoding":{"x":{"field":"at","type":"quantitative"},"text":{"field":"sub"}}}
]}
]
}
